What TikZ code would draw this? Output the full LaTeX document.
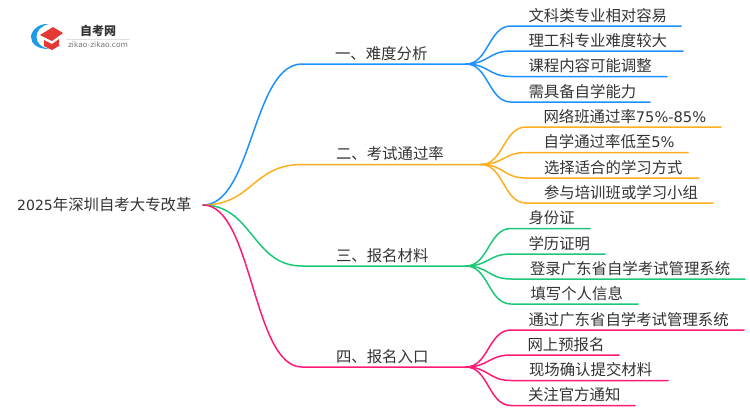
\documentclass[tikz,border=0pt]{standalone}
\usepackage{fontspec}
\usetikzlibrary{calc}
\setmainfont{Noto Sans CJK SC}
\newfontfamily\lat{DejaVu Sans}[Scale=0.95]
\newfontfamily\latroot{DejaVu Sans}[Scale=0.91]
\newfontfamily\logolat{DejaVu Sans}
\definecolor{cblue}{HTML}{1E90FF}
\definecolor{corange}{HTML}{FFAE1F}
\definecolor{cgreen}{HTML}{1CC878}
\definecolor{cpink}{HTML}{FF1A75}
\definecolor{txt}{HTML}{333333}
\definecolor{capred}{HTML}{E53935}
\definecolor{arcblue}{HTML}{1E9BE8}
\tikzset{
  lbl/.style={inner sep=0pt,outer sep=0pt,text=txt,font=\fontsize{15.4}{15.4}\selectfont,anchor=south west,text height=14pt,text depth=5pt,align=flush left},
  conn/.style={line width=1.5pt,line cap=round,line join=round},
}
\newcommand{\branch}[7]{%
  % name, colour, start x, end x, y, text offset, text
  \pgfmathsetmacro{\boxw}{#4-#3}%
  \node[lbl,text width=\boxw pt] (#1) at (#3,#5) {\hspace*{#6pt}#7};
  \coordinate (#1w) at (#1.south west);
  \coordinate (#1e) at (#1.south east);
  \coordinate (mm) at ($(rootr)!0.5!(#1w)$);
  \draw[conn,#2] (rootr) .. controls (mm |- rootr) and (mm |- #1w) .. (#1w) -- (#1e);
}
\newcommand{\leaf}[8]{%
  % name, hub, colour, start x, end x, y, text offset, text
  \pgfmathsetmacro{\boxw}{#5-#4}%
  \node[lbl,text width=\boxw pt] (#1) at (#4,#6) {\hspace*{#7pt}#8};
  \coordinate (#1w) at (#1.south west);
  \coordinate (#1e) at (#1.south east);
  \coordinate (mm) at ($(#2e)!0.5!(#1w)$);
  \draw[conn,#3] (#2e) .. controls (mm |- #2e) and (mm |- #1w) .. (#1w) -- (#1e);
}
\begin{document}
\begin{tikzpicture}[x=1pt,y=-1pt]
\useasboundingbox (0,0) rectangle (750,410);
% logo
\fill[arcblue] (49,24) .. controls (37,23) and (31,32) .. (31,37) .. controls (31,44) and (38,49.5) .. (50,49) .. controls (41,47.5) and (36.5,43) .. (36.5,37) .. controls (36.5,31) and (41,25.5) .. (49,24) -- cycle;
\fill[capred] (40,35) -- (53,27) -- (63,33) -- (52,41) -- cycle;
\fill[capred] (44,40) -- (52,44) -- (59,39) -- (59,46) -- (52,50) -- (44,46) -- cycle;
\node[inner sep=0pt,text=txt,font=\fontsize{12}{12}\bfseries\selectfont] (logotxt) at (98,31) {自考网};
\draw[black!12,line width=0.6pt] (66,39) -- (130,39);
\node[inner sep=0pt,text=black!55,font=\logolat\fontsize{7.5}{8}\selectfont] (logourl) at (98,45) {zikao-zikao.com};
% root and hubs
\node[inner sep=0pt,text=txt,font=\fontsize{15.4}{15.4}\selectfont,anchor=west] (root) at (17,205) {{\latroot 2025}年深圳自考大专改革};
\coordinate (rootr) at (203,205);
\branch{a}{cblue}{302}{466}{64}{33}{一、难度分析}
\branch{b}{corange}{302}{481}{164.5}{34}{二、考试通过率}
\branch{c}{cgreen}{302}{466}{266}{34}{三、报名材料}
\branch{d}{cpink}{302}{466}{367}{34}{四、报名入口}
\leaf{a1}{a}{cblue}{511}{681}{26}{17.5}{文科类专业相对容易}
\leaf{a2}{a}{cblue}{511}{683}{51}{17.5}{理工科专业难度较大}
\leaf{a3}{a}{cblue}{511}{667}{76.5}{17.5}{课程内容可能调整}
\leaf{a4}{a}{cblue}{511}{650}{102}{17.5}{需具备自学能力}
\leaf{b1}{b}{corange}{526}{721}{127}{17.5}{网络班通过率{\lat 75\%-85\%}}
\leaf{b2}{b}{corange}{526}{688}{152.5}{17.5}{自学通过率低至{\lat 5\%}}
\leaf{b3}{b}{corange}{526}{699}{178}{18}{选择适合的学习方式}
\leaf{b4}{b}{corange}{526}{713}{203}{18}{参与培训班或学习小组}
\leaf{c1}{c}{cgreen}{511}{590}{228.5}{17.5}{身份证}
\leaf{c2}{c}{cgreen}{511}{605}{254}{17.5}{学历证明}
\leaf{c3}{c}{cgreen}{511}{745}{279}{19}{登录广东省自学考试管理系统}
\leaf{c4}{c}{cgreen}{511}{638}{304}{19.5}{填写个人信息}
\leaf{d1}{d}{cpink}{511}{744}{330}{17.5}{通过广东省自学考试管理系统}
\leaf{d2}{d}{cpink}{511}{619}{355}{16.5}{网上预报名}
\leaf{d3}{d}{cpink}{511}{668}{380.5}{18}{现场确认提交材料}
\leaf{d4}{d}{cpink}{511}{635}{405.5}{17}{关注官方通知}
\end{tikzpicture}
\end{document}
